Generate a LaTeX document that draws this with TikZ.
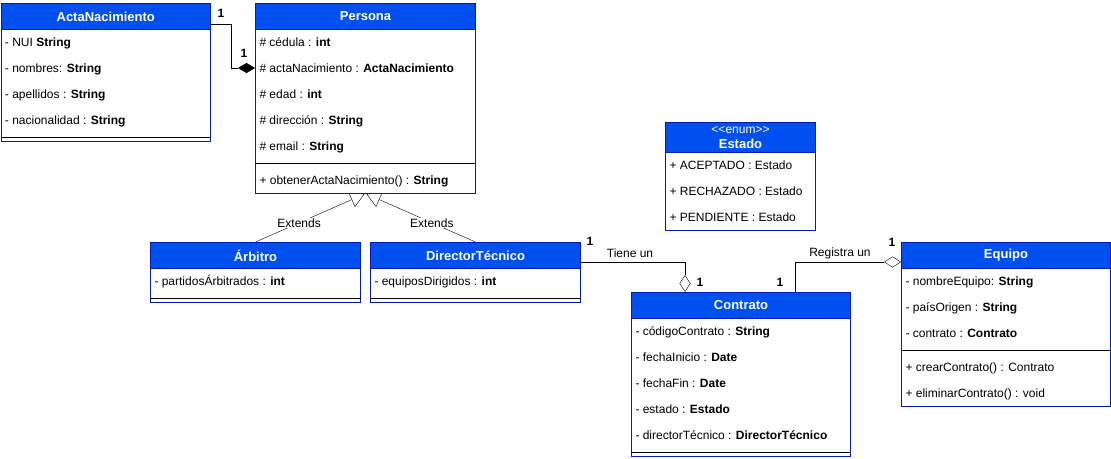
\documentclass[tikz,border=0pt]{standalone}
\usepackage{fontspec}
\setmainfont{Liberation Sans}
\usepackage{tikz}
\usetikzlibrary{arrows.meta,backgrounds}
\definecolor{umlblue}{HTML}{0050EF}
\definecolor{umlline}{HTML}{001DBC}

\begin{document}
\begin{tikzpicture}[x=1pt,y=-1pt,line width=1pt,font=\fontsize{12}{14}\selectfont,
    box/.style={draw=umlline,fill=white,anchor=north west,inner sep=0pt},
    head/.style={draw=umlline,fill=umlblue,text=white,anchor=north west,inner sep=0pt,
        minimum height=26pt,font=\fontsize{13}{15}\selectfont\bfseries},
    attr/.style={anchor=west,inner sep=0pt,text height=8.6pt,text depth=0pt},
    mult/.style={inner sep=0pt,text height=8.6pt,text depth=0pt,font=\fontsize{12}{14}\selectfont\bfseries},
    lbl/.style={inner sep=1pt,text height=8.6pt,text depth=0pt},
    extends/.style={-{Triangle[open,length=14pt,width=16pt,fill=white]}},
    comp/.style={-{Diamond[length=17pt,width=10pt]}},
    aggr/.style={-{Diamond[open,length=17pt,width=11pt,fill=white]}}]
    \useasboundingbox (0,0) rectangle (1111,458);

    % ActaNacimiento
    \node[box,minimum width=209.5pt,minimum height=138pt] (acta) at (0.5,3) {};
    \node[head,minimum width=209.5pt] (actaH) at (acta.north west) {ActaNacimiento};
    \node[attr] (acta1) at (4.5,42) {- NUI \textbf{String}};
    \node[attr] (acta2) at (4.5,68) {- nombres: \textbf{String}};
    \node[attr] (acta3) at (4.5,94) {- apellidos : \textbf{String}};
    \node[attr] (acta4) at (4.5,120) {- nacionalidad : \textbf{String}};
    \draw (acta.west |- 0,137) -- (acta.east |- 0,137);

    % Persona
    \node[box,minimum width=220pt,minimum height=190pt] (persona) at (255,3) {};
    \node[head,minimum width=220pt] (personaH) at (persona.north west) {Persona};
    \node[attr] (pers1) at (259,42) {\# cédula : \textbf{int}};
    \node[attr] (pers2) at (259,68) {\# actaNacimiento : \textbf{ActaNacimiento}};
    \node[attr] (pers3) at (259,94) {\# edad : \textbf{int}};
    \node[attr] (pers4) at (259,120) {\# dirección : \textbf{String}};
    \node[attr] (pers5) at (259,146) {\# email : \textbf{String}};
    \draw (persona.west |- 0,163) -- (persona.east |- 0,163);
    \node[attr] (pers6) at (259,180) {+ obtenerActaNacimiento() : \textbf{String}};

    % Arbitro
    \node[box,minimum width=210pt,minimum height=60pt] (arb) at (150,242) {};
    \node[head,minimum width=210pt] (arbH) at (arb.north west) {Árbitro};
    \node[attr] (arb1) at (154,281) {- partidosÁrbitrados : \textbf{int}};
    \draw (arb.west |- 0,298) -- (arb.east |- 0,298);

    % DirectorTecnico
    \node[box,minimum width=210pt,minimum height=60pt] (dt) at (370,242) {};
    \node[head,minimum width=210pt] (dtH) at (dt.north west) {DirectorTécnico};
    \node[attr] (dt1) at (374,281) {- equiposDirigidos : \textbf{int}};
    \draw (dt.west |- 0,298) -- (dt.east |- 0,298);

    % Estado
    \node[box,minimum width=150pt,minimum height=108pt] (estado) at (665,122) {};
    \node[head,minimum width=150pt,minimum height=30pt,align=center,font=\fontsize{12}{15}\selectfont]
        (estadoH) at (estado.north west) {<{}<enum>{}>\\\fontsize{13}{15}\selectfont\bfseries Estado};
    \node[attr] (est1) at (669,165) {+ ACEPTADO : Estado};
    \node[attr] (est2) at (669,191) {+ RECHAZADO : Estado};
    \node[attr] (est3) at (669,217) {+ PENDIENTE : Estado};

    % Contrato
    \node[box,minimum width=219pt,minimum height=164pt] (contrato) at (631,292) {};
    \node[head,minimum width=219pt] (contratoH) at (contrato.north west) {Contrato};
    \node[attr] (con1) at (635,331) {- códigoContrato : \textbf{String}};
    \node[attr] (con2) at (635,357) {- fechaInicio : \textbf{Date}};
    \node[attr] (con3) at (635,383) {- fechaFin : \textbf{Date}};
    \node[attr] (con4) at (635,409) {- estado : \textbf{Estado}};
    \node[attr] (con5) at (635,435) {- directorTécnico : \textbf{DirectorTécnico}};
    \draw (contrato.west |- 0,452) -- (contrato.east |- 0,452);

    % Equipo
    \node[box,minimum width=209pt,minimum height=164pt] (equipo) at (901,242) {};
    \node[head,minimum width=209pt] (equipoH) at (equipo.north west) {Equipo};
    \node[attr] (eq1) at (905,281) {- nombreEquipo: \textbf{String}};
    \node[attr] (eq2) at (905,307) {- paísOrigen : \textbf{String}};
    \node[attr] (eq3) at (905,333) {- contrato : \textbf{Contrato}};
    \draw (equipo.west |- 0,350) -- (equipo.east |- 0,350);
    \node[attr] (eq4) at (905,367) {+ crearContrato() : Contrato};
    \node[attr] (eq5) at (905,393) {+ eliminarContrato() : void};

    % relations
    \begin{scope}[on background layer]
        \draw[comp] ([yshift=-21pt]acta.north east) -- ++(20,0) |- (persona.west |- pers2);
        \draw[extends] (arb.north) -- node[lbl,fill=white,pos=0.4] (ext1) {Extends}
            ([xshift=-1pt]persona.south);
        \draw[extends] (dt.north) -- node[lbl,fill=white,pos=0.4] (ext2) {Extends}
            ([xshift=1pt]persona.south);
        \draw[aggr] ([yshift=-20pt]dt.north east) -| ([xshift=54pt]contrato.north west);
        \draw[aggr] ([xshift=164pt]contrato.north west) |- ([yshift=-20pt]equipo.north west);
    \end{scope}

    \node[mult] (m1) at (221,13) {1};
    \node[mult] (m2) at (244,53) {1};
    \node[mult] (m3) at (590,241) {1};
    \node[lbl] (tiene) at (630,253) {Tiene un};
    \node[mult] (m4) at (700,282) {1};
    \node[mult] (m5) at (780,282) {1};
    \node[lbl] (registra) at (840,252) {Registra un};
    \node[mult] (m6) at (892,242) {1};
\end{tikzpicture}
\end{document}
